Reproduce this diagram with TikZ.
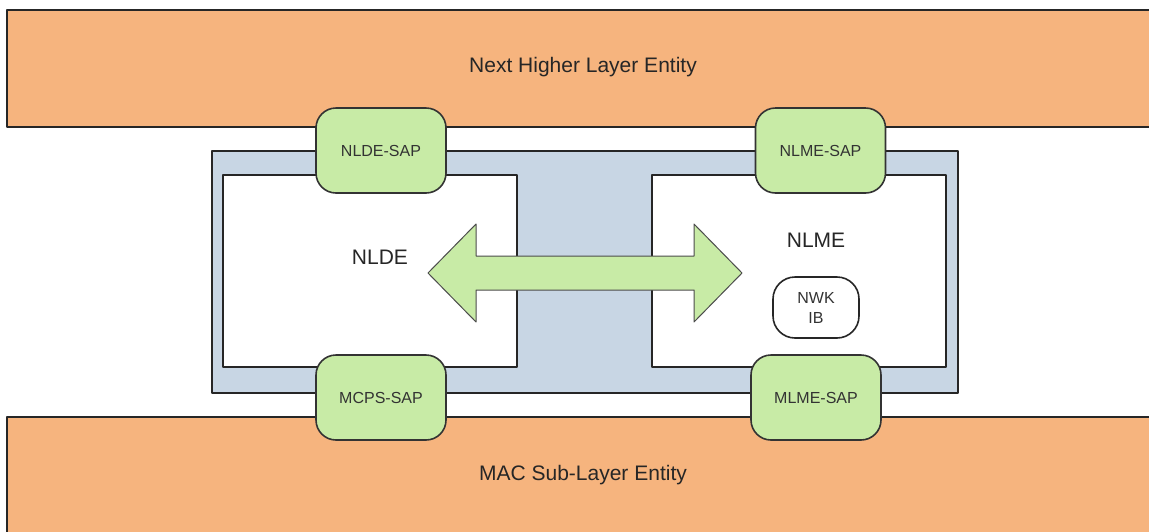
\documentclass[tikz,border=0pt]{standalone}
\usepackage{fontspec}
\setmainfont{Liberation Sans}
\usetikzlibrary{positioning}
\definecolor{layO}{RGB}{246,180,126}
\definecolor{sapG}{RGB}{200,235,166}
\definecolor{nwkB}{RGB}{200,214,228}

\begin{document}
\begin{tikzpicture}[x=0.5pt,y=-0.5pt,line join=round,
  layer/.style={draw=black!85,line width=1pt,fill=layO},
  sap/.style={draw=black!80,line width=0.8pt,fill=sapG,rounded corners=10pt,minimum width=65pt,minimum height=42.5pt,inner sep=0pt,text=black!80,font=\fontsize{8}{9.6}\selectfont},
  big/.style={font=\fontsize{10.5}{12.6}\selectfont,text=black!85}]
\clip (0,0) rectangle (1149,531);
\fill[white] (0,0) rectangle (1149,531);
% layers above and below
\draw[layer] (7,10) rectangle (1170,127); \node[big] (nhle) at (583,67) {Next Higher Layer Entity};
\draw[layer] (7,417) rectangle (1170,560); \node[big] (mac) at (583,475) {MAC Sub-Layer Entity};
% network layer frame
\draw[draw=black!85,line width=1pt,fill=nwkB] (212,151) rectangle (958,393);
\draw[draw=black!85,line width=1pt,fill=white] (223,175) rectangle (517,367);
\draw[draw=black!85,line width=1pt,fill=white] (652,175) rectangle (946,367);
\node[big] (nlde) at (380,257) {NLDE};
\node[draw=black!85,line width=0.8pt,rounded corners=11pt,minimum width=43pt,minimum height=30.5pt,inner sep=0pt,align=center,text=black!80,font=\fontsize{8}{10}\selectfont] (nib) at (816,307.5) {NWK\\IB};
\node[big,above=11pt of nib] (nlme) {NLME};
% double arrow between NLDE and NLME
\draw[draw=black!70,line width=0.5pt,fill=sapG] (428,273) -- (476,224) -- (476,256) -- (694,256) -- (694,224) -- (742,273) -- (694,322) -- (694,290) -- (476,290) -- (476,322) -- cycle;
% service access points
\node[sap] (ndsap) at (381,150.5) {NLDE-SAP}; \node[sap] (nmsap) at (820.5,150.5) {NLME-SAP};
\node[sap] (mcsap) at (381,397.5) {MCPS-SAP}; \node[sap] (mmsap) at (816,397.5) {MLME-SAP};
\end{tikzpicture}
\end{document}
